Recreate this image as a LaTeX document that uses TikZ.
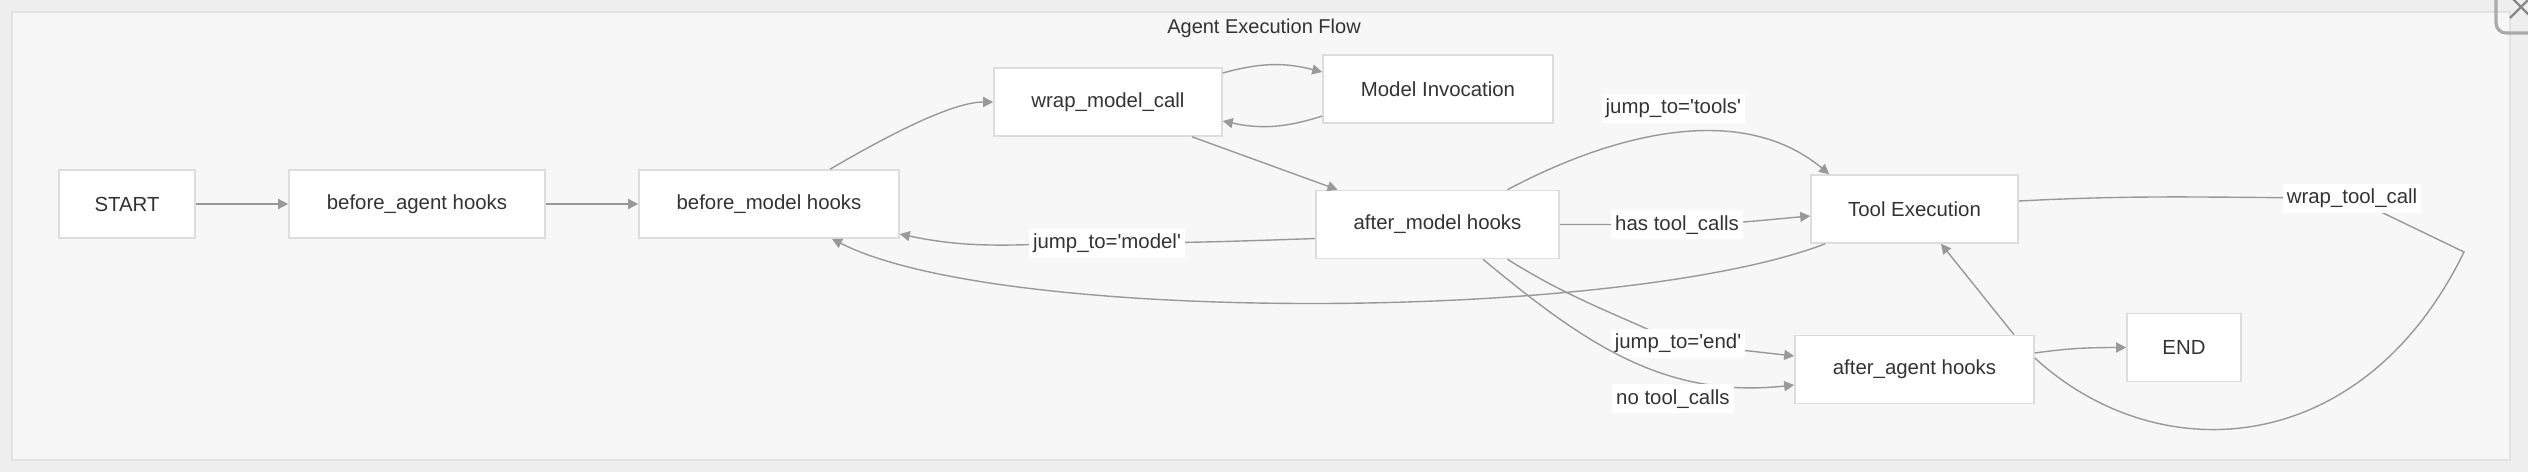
\documentclass[tikz,border=0pt]{standalone}
\usepackage{fontspec}
\setmainfont{Liberation Sans}
\usetikzlibrary{arrows.meta}
\definecolor{edgegray}{RGB}{153,153,153}
\definecolor{boxline}{RGB}{221,221,221}
\definecolor{textgray}{RGB}{51,51,51}
\definecolor{panelbg}{RGB}{247,247,247}
\definecolor{pagebg}{RGB}{238,238,238}
\definecolor{panelline}{RGB}{226,226,226}
\definecolor{closegray}{RGB}{170,170,170}

\begin{document}
\begin{tikzpicture}[>={Triangle[length=5pt,width=5pt]}, x=0.5pt, y=-0.5pt,
  hookbox/.style={draw=boxline, fill=white, line width=0.8pt, inner sep=0pt,
    minimum height=34pt, text=textgray, font=\fontsize{10.2pt}{12pt}\selectfont},
  flow/.style={edgegray, line width=0.7pt},
  lbl/.style={fill=white, inner sep=2pt, text height=8pt, text depth=2.5pt,
    text=textgray, font=\fontsize{10.2pt}{12pt}\selectfont}]
  \useasboundingbox (0,0) rectangle (2528,472);

  % Panel
  \fill[pagebg] (0,0) rectangle (2528,472);
  \filldraw[fill=panelbg, draw=panelline, line width=1pt] (12,12) rectangle (2510,460);
  \draw[closegray, line width=1.6pt, rounded corners=5pt] (2496,-20) rectangle (2560,33);
  \draw[closegray!80!black, line width=1.2pt] (2510,18) -- (2532,-4) (2510,-4) -- (2532,18);
  \node[text=textgray, font=\fontsize{10pt}{12pt}\selectfont] (title) at (1264,28) {Agent Execution Flow};

  % Hooks
  \node[hookbox, minimum width=68pt] (start) at (127,204) {START};
  \node[hookbox, minimum width=128pt] (bagent) at (417,204) {before\_agent hooks};
  \node[hookbox, minimum width=130pt] (bmodel) at (769,204) {before\_model hooks};
  \node[hookbox, minimum width=114pt] (wrap) at (1108,102) {wrap\_model\_call};
  \node[hookbox, minimum width=115pt] (minv) at (1438,89) {Model Invocation};
  \node[hookbox, minimum width=121.5pt] (amodel) at (1437.5,224.5) {after\_model hooks};
  \node[hookbox, minimum width=103.5pt] (texec) at (1914.5,209) {Tool Execution};
  \node[hookbox, minimum width=119.5pt] (aagent) at (1914.5,369.5) {after\_agent hooks};
  \node[hookbox, minimum width=57pt] (endn) at (2184,347.5) {END};

  % Main chain
  \draw[flow, ->] (start) -- (bagent);
  \draw[flow, ->] (bagent) -- (bmodel);
  \draw[flow, ->] ([xshift=30.5pt]bmodel.north) .. controls (880,140) and (950,102) .. (wrap.west);

  % Model call
  \draw[flow, ->] ([yshift=14.5pt]wrap.east) to[bend left=15] ([yshift=8.5pt]minv.west);
  \draw[flow, ->] ([yshift=-13.5pt]minv.west) to[bend left=15] ([yshift=-9.5pt]wrap.east);
  \draw[flow, ->] ([xshift=42pt]wrap.south) -- ([xshift=-50pt]amodel.north);

  % Jumps out of after_model
  \draw[flow, ->] ([yshift=-7pt]amodel.west) to[out=182,in=0] (1107,243)
    node[lbl] (ljmodel) {jump\_to=\textquotesingle model\textquotesingle}
    to[out=180,in=-12] ([yshift=-15pt]bmodel.east);
  \draw[flow, ->] ([xshift=35pt]amodel.north) .. controls (1610,135) and (1740,100) .. ([xshift=9.5pt]texec.north west)
    node[lbl, pos=0.5, above=5pt] (ljtools) {jump\_to=\textquotesingle tools\textquotesingle};
  \draw[flow, ->] (amodel.east) -- (1677,224.5)
    node[lbl] (lhas) {has tool\_calls}
    to[out=0,in=185] ([yshift=-3.5pt]texec.west);
  \draw[flow, ->] ([xshift=35pt]amodel.south) to[out=-32,in=155] (1678,343)
    node[lbl] (ljend) {jump\_to=\textquotesingle end\textquotesingle}
    -- ([yshift=6.75pt]aagent.west);
  \draw[flow, ->] ([xshift=22.75pt]amodel.south) .. controls (1584,343) and (1664,399) .. ([yshift=-7.75pt]aagent.west)
    node[lbl, pos=0.65, below=4pt] (lno) {no tool\_calls};

  % Tool loop
  \draw[flow, ->] ([xshift=7.5pt]texec.south west) .. controls (1620,322) and (1000,325) .. ([xshift=31.5pt]bmodel.south);
  \draw[flow, ->] ([xshift=49.75pt]aagent.north) -- ([xshift=13.25pt]texec.south);
  \draw[flow, ->] ([yshift=8.25pt]aagent.east) to[out=8,in=180] (endn.west);
  \draw[flow] ([yshift=4pt]texec.east) to[out=3,in=180] (2352,198)
    node[lbl] (lwrap) {wrap\_tool\_call}
    -- (2464,252) .. controls (2363,459) and (2159,472) .. ([yshift=5.75pt]aagent.east);
\end{tikzpicture}
\end{document}
